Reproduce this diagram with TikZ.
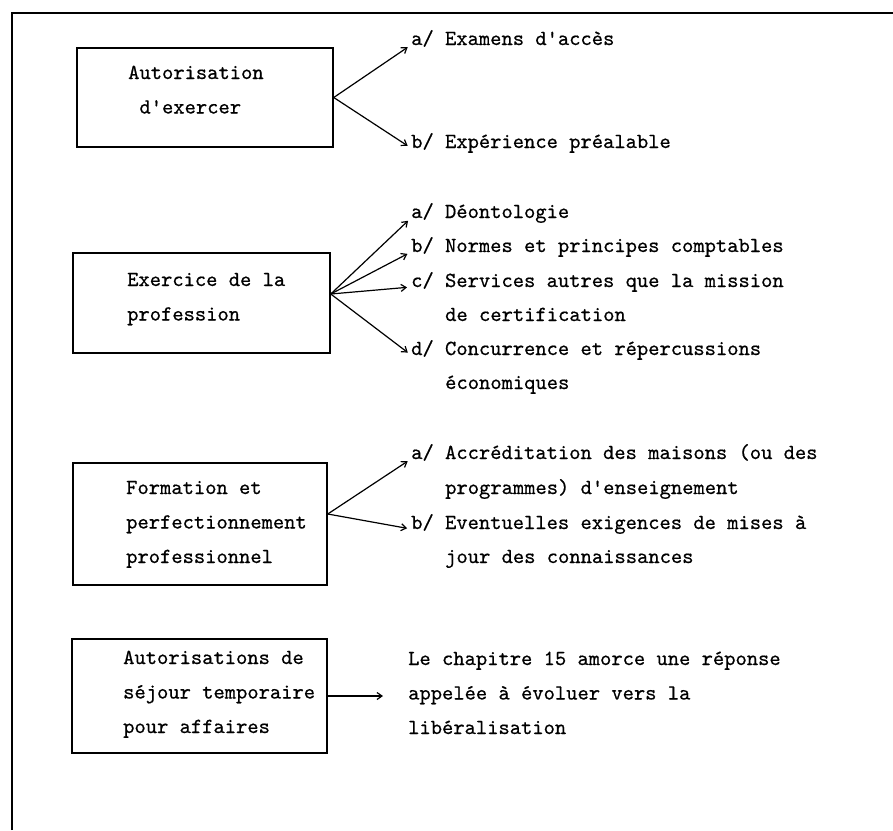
\documentclass[tikz,border=0pt]{standalone}
\usepackage{fontspec}
\setmonofont{lmmono10-regular}[Extension=.otf, FakeBold=0.6]
\usetikzlibrary{arrows.meta,positioning}
\tikzset{
  boite/.style={draw, line width=1.5pt, inner sep=0pt},
  texte/.style={font=\fontsize{21.5}{34.5}\selectfont\ttfamily, inner sep=0pt, align=left, anchor=base west},
  fleche/.style={-{Straight Barb[length=5pt,width=7pt]}, line width=1.2pt, shorten >=4pt}
}
\begin{document}
\begin{tikzpicture}[x=1pt,y=-1pt]
  \useasboundingbox (0,0) rectangle (893,830);
  % cadre ouvert : bord gauche et bord du haut
  \draw[line width=1.8pt] (12,830) -- (12,13);
  \draw[line width=2.6pt] (11,13) -- (893,13);
  % colonne des renvois, et son retrait de suite de ligne
  \def\xl{411} \def\xs{445}
  % 1. autorisation d'exercer (texte de boite : base de la derniere ligne)
  \node[boite, minimum width=256pt, minimum height=99pt] (autor) at (205,97.5) {};
  \node[texte] (tautor) at (128,113.5) {Autorisation\\\hphantom{x}d\textquotesingle{}exercer};
  \node[texte] (examens) at (\xl,45) {a/ Examens d\textquotesingle{}accès};
  \node[texte] (experience) at (\xl,148) {b/ Expérience préalable};
  \draw[fleche] (autor.east) -- (examens.base west);
  \draw[fleche] (autor.east) -- (experience.base west);
  % 2. exercice de la profession
  \node[boite, minimum width=257pt, minimum height=100pt] (exer) at (201.5,303) {};
  \node[texte] (texer) at (127,320.5) {Exercice de la\\profession};
  \node[texte] (deonto) at (\xl,218) {a/ Déontologie};
  \node[texte] (normes) at (\xl,252) {b/ Normes et principes comptables};
  \node[texte] (services) at (\xl,287) {c/ Services autres que la mission};
  \node[texte] (servicessuite) at (\xs,321) {de certification};
  \node[texte] (concur) at (\xl,355) {d/ Concurrence et répercussions};
  \node[texte] (concursuite) at (\xs,389) {économiques};
  \foreach \cible in {deonto,normes,services,concur}
    \draw[fleche] ([yshift=9pt]exer.east) -- (\cible.base west);
  % 3. formation
  \node[boite, minimum width=254pt, minimum height=122pt] (forma) at (200,524) {};
  \node[texte] (tforma) at (126,563) {Formation et\\perfectionnement\\professionnel};
  \node[texte] (accred) at (\xl,459) {a/ Accréditation des maisons (ou des};
  \node[texte] (accredsuite) at (\xs,494) {programmes) d\textquotesingle{}enseignement};
  \node[texte] (exig) at (\xl,529) {b/ Eventuelles exigences de mises à};
  \node[texte] (exigsuite) at (\xs,563) {jour des connaissances};
  \draw[fleche] ([yshift=10pt]forma.east) -- (accred.base west);
  \draw[fleche] ([yshift=10pt]forma.east) -- (exig.base west);
  % 4. sejour temporaire
  \node[boite, minimum width=255pt, minimum height=114pt] (sejour) at (199.5,696) {};
  \node[texte] (tsejour) at (123,733) {Autorisations de\\séjour temporaire\\pour affaires};
  \node[texte] (chap) at (408,734) {Le chapitre 15 amorce une réponse\\appelée à évoluer vers la\\libéralisation};
  \draw[fleche, shorten >=25pt] (sejour.east) -- (sejour.east -| chap.west);
\end{tikzpicture}
\end{document}
